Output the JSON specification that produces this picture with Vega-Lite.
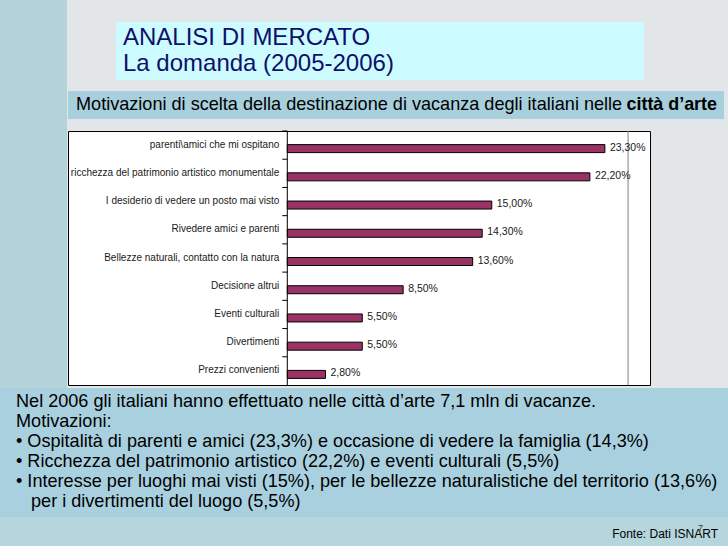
{
  "$schema": "https://vega.github.io/schema/vega-lite/v6.json",
  "background": "#e3e6e8",
  "padding": 0,
  "spacing": 0,
  "config": {
    "font": "Liberation Sans",
    "view": {"stroke": null},
    "locale": {"number": {"decimal": ",", "thousands": ".", "grouping": [3], "currency": ["", " €"]}}
  },
  "vconcat": [
    {
      "spacing": 0,
      "hconcat": [
        {
          "width": 67,
          "height": 388,
          "view": {"fill": "#b1d3d9", "stroke": null},
          "data": {"values": [{}]},
          "mark": {"type": "text", "text": ""}
        },
        {
          "spacing": 0,
          "vconcat": [
            {
              "width": 1,
              "height": 22,
              "view": {"fill": "white", "fillOpacity": 0, "stroke": null},
              "data": {"values": [{}]},
              "mark": {"type": "text", "text": ""}
            },
            {
              "spacing": 0,
              "hconcat": [
                {
                  "width": 48,
                  "height": 58,
                  "view": {"fill": "white", "fillOpacity": 0, "stroke": null},
                  "data": {"values": [{}]},
                  "mark": {"type": "text", "text": ""}
                },
                {
                  "width": 528,
                  "height": 58,
                  "view": {"fill": "#ccfcff", "stroke": null},
                  "data": {"values": [
                    {"riga": 1, "testo": "ANALISI DI MERCATO"},
                    {"riga": 2, "testo": "La domanda (2005-2006)"}
                  ]},
                  "mark": {"type": "text", "align": "left", "baseline": "alphabetic", "dx": 7, "dy": 7, "fontSize": 24, "color": "#10106a"},
                  "encoding": {
                    "x": {"datum": 0, "type": "quantitative", "scale": {"domain": [0, 1]}, "axis": null},
                    "y": {"field": "riga", "type": "ordinal", "scale": {"type": "point", "padding": 0.615}, "axis": null},
                    "text": {"field": "testo"}
                  }
                }
              ]
            },
            {
              "width": 1,
              "height": 10,
              "view": {"fill": "white", "fillOpacity": 0, "stroke": null},
              "data": {"values": [{}]},
              "mark": {"type": "text", "text": ""}
            },
            {
              "width": 656,
              "height": 28,
              "view": {"fill": "#a8cfdc", "stroke": null},
              "data": {"values": [
                {"parte": "normale", "testo": "Motivazioni di scelta della destinazione di vacanza degli italiani nelle"},
                {"parte": "grassetto", "testo": "città d’arte"}
              ]},
              "layer": [
                {
                  "transform": [{"filter": "datum.parte === 'normale'"}],
                  "mark": {"type": "text", "align": "left", "baseline": "middle", "dx": 8, "fontSize": 18.1, "color": "black"},
                  "encoding": {
                    "x": {"datum": 0, "type": "quantitative", "scale": {"domain": [0, 1]}, "axis": null},
                    "text": {"field": "testo"}
                  }
                },
                {
                  "transform": [{"filter": "datum.parte === 'grassetto'"}],
                  "mark": {"type": "text", "align": "right", "baseline": "middle", "dx": -7, "fontSize": 17.9, "fontWeight": "bold", "color": "black"},
                  "encoding": {
                    "x": {"datum": 1, "type": "quantitative", "axis": null},
                    "text": {"field": "testo"}
                  }
                }
              ]
            },
            {
              "width": 1,
              "height": 10,
              "view": {"fill": "white", "fillOpacity": 0, "stroke": null},
              "data": {"values": [{}]},
              "mark": {"type": "text", "text": ""}
            },
            {
              "width": 582,
              "height": 254,
              "view": {"fill": "white", "stroke": "black", "strokeWidth": 1},
              "data": {"values": [
                {"motivo": "parenti\\amici che mi ospitano", "quota": 0.233},
                {"motivo": "ricchezza del patrimonio artistico monumentale", "quota": 0.222},
                {"motivo": "I desiderio di vedere un posto mai visto", "quota": 0.15},
                {"motivo": "Rivedere amici e parenti", "quota": 0.143},
                {"motivo": "Bellezze naturali, contatto con la natura", "quota": 0.136},
                {"motivo": "Decisione altrui", "quota": 0.085},
                {"motivo": "Eventi culturali", "quota": 0.055},
                {"motivo": "Divertimenti", "quota": 0.055},
                {"motivo": "Prezzi convenienti", "quota": 0.028}
              ]},
              "encoding": {
                "y": {"field": "motivo", "type": "nominal",
                  "sort": ["parenti\\amici che mi ospitano", "ricchezza del patrimonio artistico monumentale", "I desiderio di vedere un posto mai visto", "Rivedere amici e parenti", "Bellezze naturali, contatto con la natura", "Decisione altrui", "Eventi culturali", "Divertimenti", "Prezzi convenienti"],
                  "scale": {"paddingInner": 0, "paddingOuter": 0},
                  "axis": null}
              },
              "layer": [
                {
                  "data": {"values": [{}]},
                  "mark": {"type": "rule", "color": "#808080", "strokeWidth": 1},
                  "encoding": {
                    "y": null,
                    "x": {"datum": 0.25, "type": "quantitative", "scale": {"domain": [-0.1609, 0.2661], "nice": false, "zero": false}, "axis": null}
                  }
                },
                {
                  "data": {"values": [{}]},
                  "mark": {"type": "rule", "color": "black", "strokeWidth": 1},
                  "encoding": {
                    "y": null,
                    "x": {"datum": 0, "type": "quantitative", "axis": null}
                  }
                },
                {
                  "mark": {"type": "rule", "color": "black", "strokeWidth": 1},
                  "encoding": {
                    "y": {"field": "motivo", "type": "nominal", "bandPosition": 0,
                      "sort": ["parenti\\amici che mi ospitano", "ricchezza del patrimonio artistico monumentale", "I desiderio di vedere un posto mai visto", "Rivedere amici e parenti", "Bellezze naturali, contatto con la natura", "Decisione altrui", "Eventi culturali", "Divertimenti", "Prezzi convenienti"],
                      "axis": null},
                    "x": {"datum": -0.0037, "type": "quantitative", "axis": null},
                    "x2": {"datum": 0}
                  }
                },
                {
                  "mark": {"type": "bar", "size": 8, "yOffset": 3.5, "color": "#993366", "stroke": "black", "strokeWidth": 1},
                  "encoding": {
                    "x": {"field": "quota", "type": "quantitative", "axis": null}
                  }
                },
                {
                  "mark": {"type": "text", "align": "right", "baseline": "middle", "dx": -8, "dy": -0.5, "fontSize": 10, "color": "#1a1a1a"},
                  "encoding": {
                    "x": {"datum": 0, "type": "quantitative", "axis": null},
                    "text": {"field": "motivo"}
                  }
                },
                {
                  "mark": {"type": "text", "align": "left", "baseline": "middle", "dx": 5, "dy": 2.5, "fontSize": 10.5, "color": "#1a1a1a"},
                  "encoding": {
                    "x": {"field": "quota", "type": "quantitative", "axis": null},
                    "text": {"field": "quota", "type": "quantitative", "format": ".2%"}
                  }
                }
              ]
            }
          ]
        }
      ]
    },
    {
      "width": 728,
      "height": 129,
      "view": {"fill": "#a9d0df", "stroke": null},
      "data": {"values": [
        {"riga": 1, "rientro": "no", "testo": "Nel 2006 gli italiani hanno effettuato nelle città d’arte 7,1 mln di vacanze."},
        {"riga": 2, "rientro": "no", "testo": "Motivazioni:"},
        {"riga": 3, "rientro": "no", "testo": "• Ospitalità di parenti e amici (23,3%) e occasione di vedere la famiglia (14,3%)"},
        {"riga": 4, "rientro": "no", "testo": "• Ricchezza del patrimonio artistico (22,2%) e eventi culturali (5,5%)"},
        {"riga": 5, "rientro": "no", "testo": "• Interesse per luoghi mai visti (15%), per le bellezze naturalistiche del territorio (13,6%)"},
        {"riga": 6, "rientro": "si", "testo": "per i divertimenti del luogo (5,5%)"}
      ]},
      "encoding": {
        "x": {"datum": 0, "type": "quantitative", "scale": {"domain": [0, 1]}, "axis": null},
        "y": {"field": "riga", "type": "ordinal", "scale": {"type": "point", "padding": 0.74}, "axis": null},
        "text": {"field": "testo"}
      },
      "layer": [
        {
          "transform": [{"filter": "datum.rientro === 'no'"}],
          "mark": {"type": "text", "align": "left", "baseline": "alphabetic", "dx": 16, "dy": 4.6, "fontSize": 18.1, "color": "black"}
        },
        {
          "transform": [{"filter": "datum.rientro === 'si'"}],
          "mark": {"type": "text", "align": "left", "baseline": "alphabetic", "dx": 31, "dy": 4.6, "fontSize": 18.1, "color": "black"}
        }
      ]
    },
    {
      "width": 728,
      "height": 29,
      "view": {"fill": "#b4d6dc", "stroke": null},
      "data": {"values": [
        {"voce": "fonte", "testo": "Fonte: Dati ISNART"},
        {"voce": "pagina", "testo": "7"}
      ]},
      "layer": [
        {
          "transform": [{"filter": "datum.voce === 'fonte'"}],
          "mark": {"type": "text", "align": "right", "baseline": "alphabetic", "dx": -10, "dy": 6.8, "fontSize": 12, "color": "black"},
          "encoding": {
            "x": {"datum": 1, "type": "quantitative", "scale": {"domain": [0, 1]}, "axis": null},
            "text": {"field": "testo"}
          }
        },
        {
          "transform": [{"filter": "datum.voce === 'pagina'"}],
          "mark": {"type": "text", "align": "right", "baseline": "alphabetic", "dx": -25, "dy": -0.8, "fontSize": 9, "color": "#333333"},
          "encoding": {
            "x": {"datum": 1, "type": "quantitative", "axis": null},
            "text": {"field": "testo"}
          }
        }
      ]
    }
  ]
}
